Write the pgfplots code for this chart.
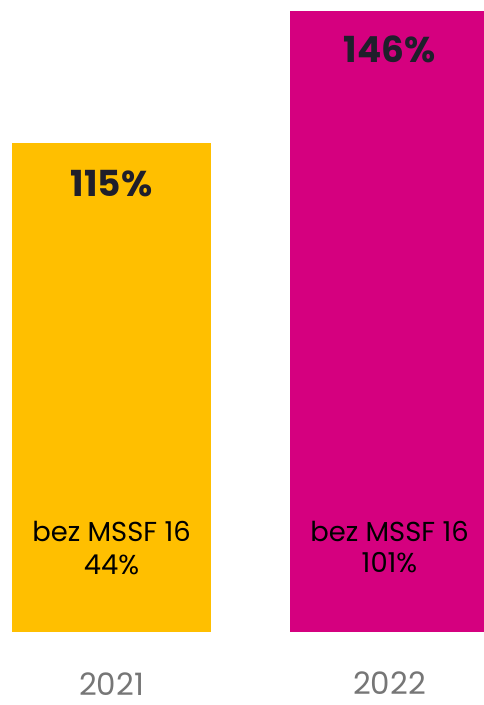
\documentclass[border=0pt]{standalone}
\usepackage{pgfplots}
\pgfplotsset{compat=1.18}
\usepackage{fontspec}
\setmainfont{Poppins}
\definecolor{barA}{HTML}{FFBF00}
\definecolor{barB}{HTML}{D5007F}
\definecolor{valtxt}{HTML}{1F1F2B}
\definecolor{yeartxt}{HTML}{767676}

\begin{document}
\begin{tikzpicture}
  \begin{axis}[
      name=main,
      scale only axis,
      width=484bp, height=705bp,
      xmin=-0.4011, xmax=1.3399,
      ymin=-17.18, ymax=148.7,
      hide axis,
      ybar, bar width=0.716, bar shift=0pt,
      clip=true,
    ]
    \addplot[fill=barA, draw=none] coordinates {(0,115)};
    \addplot[fill=barB, draw=none] coordinates {(1,146)};

    % value labels
    \node[text=valtxt, font=\fontsize{36}{40}\selectfont\bfseries] at (axis cs:0,105.4) {115\%};
    \node[text=valtxt, font=\fontsize{36}{40}\selectfont\bfseries] at (axis cs:1,137.2) {146\%};

    % inner labels
    \node[anchor=base, font=\fontsize{27.5}{30}\selectfont] at (axis cs:0,21.4) {bez MSSF 16};
    \node[anchor=base, font=\fontsize{27.5}{30}\selectfont] at (axis cs:0,13.6) {44\%};
    \node[anchor=base, font=\fontsize{27.5}{30}\selectfont] at (axis cs:1,21.4) {bez MSSF 16};
    \node[anchor=base, font=\fontsize{27.5}{30}\selectfont] at (axis cs:1,13.9) {101\%};

    % years
    \node[anchor=base, inner sep=0pt, text depth=0pt, text=yeartxt, font=\fontsize{31}{34}\selectfont] at (axis cs:0,-14.9) {2021};
    \node[anchor=base, inner sep=0pt, text depth=0pt, text=yeartxt, font=\fontsize{31}{34}\selectfont] at (axis cs:1,-14.6) {2022};
  \end{axis}
  \pgfresetboundingbox
  \path (main.south west) rectangle (main.north east);
\end{tikzpicture}
\end{document}
